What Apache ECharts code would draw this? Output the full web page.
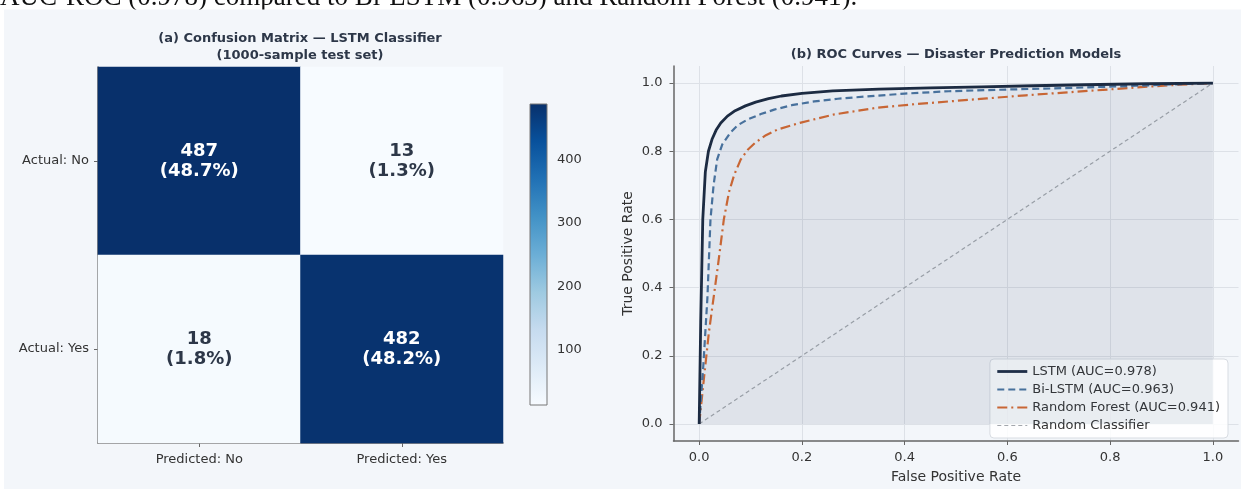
<!DOCTYPE html>
<html><head><meta charset="utf-8">
<script src="https://cdn.jsdelivr.net/npm/echarts@6/dist/echarts.min.js"></script>
<style>html,body{margin:0;padding:0;background:#fff}#c{width:1241px;height:489px}</style>
</head><body><div id="c"></div>
<script>
// ---------- data ----------
const captionText = 'AUC-ROC (0.978) compared to Bi-LSTM (0.963) and Random Forest (0.941).';
const cmTitle = '(a) Confusion Matrix \u2014 LSTM Classifier\n(1000-sample test set)';
const rocTitle = '(b) ROC Curves \u2014 Disaster Prediction Models';
const predictedLabels = ['Predicted: No', 'Predicted: Yes'];
const actualLabels = ['Actual: No', 'Actual: Yes'];
const cmCounts = [[487, 13], [18, 482]]; // rows = actual, cols = predicted
const cmTotal = 1000;
const colorbarMin = 13, colorbarMax = 487;
const colorbarTicks = [100, 200, 300, 400];
const rocTicks = [0, 0.2, 0.4, 0.6, 0.8, 1.0];

const lstmName = 'LSTM (AUC=0.978)';
const lstmFpr = [0, 0.003, 0.007, 0.012, 0.018, 0.025, 0.033, 0.042, 0.055, 0.07, 0.09, 0.11, 0.135, 0.16, 0.2, 0.26, 0.35, 0.45, 0.55, 0.65, 0.75, 0.87, 1.0];
const lstmTpr = [0, 0.3, 0.6, 0.74, 0.8, 0.835, 0.862, 0.883, 0.903, 0.919, 0.933, 0.944, 0.954, 0.962, 0.97, 0.977, 0.982, 0.986, 0.989, 0.992, 0.995, 0.998, 1.0];

const bilstmName = 'Bi-LSTM (AUC=0.963)';
const bilstmFpr = [0, 0.008, 0.016, 0.022, 0.028, 0.035, 0.045, 0.061, 0.075, 0.094, 0.12, 0.146, 0.18, 0.224, 0.27, 0.328, 0.4, 0.486, 0.6, 0.71, 0.85, 1.0];
const bilstmTpr = [0, 0.17, 0.37, 0.6, 0.7, 0.776, 0.82, 0.855, 0.876, 0.893, 0.909, 0.922, 0.935, 0.946, 0.954, 0.961, 0.969, 0.976, 0.981, 0.985, 0.992, 1.0];

const rfName = 'Random Forest (AUC=0.941)';
const rfFpr = [0, 0.009, 0.019, 0.028, 0.037, 0.048, 0.058, 0.068, 0.081, 0.095, 0.11, 0.13, 0.153, 0.198, 0.263, 0.348, 0.42, 0.486, 0.56, 0.636, 0.71, 0.786, 0.86, 0.936, 1.0];
const rfTpr = [0, 0.13, 0.27, 0.37, 0.47, 0.6, 0.68, 0.73, 0.776, 0.805, 0.826, 0.847, 0.864, 0.884, 0.908, 0.928, 0.938, 0.946, 0.955, 0.964, 0.972, 0.98, 0.988, 0.995, 1.0];

const randomName = 'Random Classifier';
const randomFpr = [0, 1];
const randomTpr = [0, 1];

// ---------- styles ----------
const BLUES = ['#f7fbff','#deebf7','#c6dbef','#9ecae1','#6baed6','#4292c6','#2171b5','#08519c','#08306b'];
const FIG_BG = '#f3f6fa';
const TXT = '#333';
const FONT = 'DejaVu Sans';

const zip = (a, b) => a.map((v, i) => [v, b[i]]);

const heatData = [];
cmCounts.forEach((row, r) => row.forEach((v, c) => {
  heatData.push({
    value: [c, r, v],
    label: { color: v > (colorbarMax + colorbarMin) / 2 ? '#ffffff' : '#2d3748' }
  });
}));

const chart = echarts.init(document.getElementById('c'), null, { renderer: 'canvas' });

const option = {
  backgroundColor: '#ffffff',
  animation: false,
  textStyle: { fontFamily: FONT },
  graphic: [
    { type: 'text', x: 0, y: -2, z: -20, silent: true,
      style: { text: captionText, font: '27px "Liberation Serif"', fill: '#111', verticalAlign: 'middle' } },
    { type: 'rect', z: -10, silent: true, shape: { x: 4, y: 9.5, width: 1237, height: 480 }, style: { fill: FIG_BG } },
    { type: 'text', x: 300, y: 30, silent: true,
      style: { text: cmTitle, font: 'bold 13px "DejaVu Sans"', fill: '#2d3748', align: 'center', lineHeight: 17 } },
    { type: 'text', x: 956, y: 48, silent: true,
      style: { text: rocTitle, font: 'bold 13px "DejaVu Sans"', fill: '#2d3748', align: 'center' } }
  ],
  visualMap: {
    show: false, type: 'continuous', seriesIndex: 0,
    min: colorbarMin, max: colorbarMax, inRange: { color: BLUES }
  },
  legend: {
    orient: 'vertical', right: 13, bottom: 51,
    itemWidth: 30, itemHeight: 14, itemGap: 5,
    padding: [6, 8, 6, 6],
    backgroundColor: 'rgba(255,255,255,0.85)', borderColor: '#d8dce2', borderWidth: 1, borderRadius: 4,
    itemStyle: { opacity: 0 },
    lineStyle: { width: 'inherit' },
    textStyle: { fontSize: 13, color: TXT, fontFamily: FONT },
    data: [lstmName, bilstmName, rfName, randomName]
  },
  grid: [
    { left: 98, top: 67, width: 405, height: 376 },
    { left: 530, top: 104, width: 17, height: 301 },
    { left: 673.5, top: 66, width: 565, height: 378 }
  ],
  xAxis: [
    { gridIndex: 0, type: 'category', data: predictedLabels,
      axisLine: { show: true, lineStyle: { color: '#666', width: 1.5 } },
      axisTick: { show: true, alignWithLabel: true, length: 4, lineStyle: { color: '#666' } },
      axisLabel: { fontSize: 13, color: TXT, margin: 10 },
      splitLine: { show: false } },
    { gridIndex: 1, type: 'value', min: 0, max: 1, show: false },
    { gridIndex: 2, type: 'value', min: -0.05, max: 1.05,
      name: 'False Positive Rate', nameLocation: 'middle', nameGap: 29,
      nameTextStyle: { fontSize: 14, color: TXT },
      axisLine: { show: true, onZero: false, lineStyle: { color: '#666', width: 1.5 } },
      axisTick: { show: true, length: 4, customValues: rocTicks, lineStyle: { color: '#666' } },
      axisLabel: { fontSize: 13, color: TXT, margin: 10, customValues: rocTicks, formatter: v => v.toFixed(1) },
      splitLine: { show: true, lineStyle: { color: '#dde1e7', width: 1 } } }
  ],
  yAxis: [
    { gridIndex: 0, type: 'category', data: actualLabels, inverse: true,
      axisLine: { show: true, lineStyle: { color: '#666', width: 1.5 } },
      axisTick: { show: true, alignWithLabel: true, length: 4, lineStyle: { color: '#666' } },
      axisLabel: { fontSize: 13, color: TXT, margin: 9 },
      splitLine: { show: false } },
    { gridIndex: 1, type: 'value', min: colorbarMin, max: colorbarMax, position: 'right',
      axisLine: { show: false },
      axisTick: { show: true, length: 4, customValues: colorbarTicks, lineStyle: { color: '#666' } },
      axisLabel: { fontSize: 13, color: TXT, margin: 10, customValues: colorbarTicks },
      splitLine: { show: false } },
    { gridIndex: 2, type: 'value', min: -0.05, max: 1.05,
      name: 'True Positive Rate', nameLocation: 'middle', nameGap: 38,
      nameTextStyle: { fontSize: 14, color: TXT },
      axisLine: { show: true, onZero: false, lineStyle: { color: '#666', width: 1.5 } },
      axisTick: { show: true, length: 4, customValues: rocTicks, lineStyle: { color: '#666' } },
      axisLabel: { fontSize: 13, color: TXT, margin: 11, customValues: rocTicks, formatter: v => v.toFixed(1) },
      splitLine: { show: true, lineStyle: { color: '#dde1e7', width: 1 } } }
  ],
  series: [
    { type: 'heatmap', xAxisIndex: 0, yAxisIndex: 0, data: heatData,
      label: { show: true, fontSize: 18, fontWeight: 'bold', lineHeight: 20,
        formatter: p => p.value[2] + '\n(' + (p.value[2] / cmTotal * 100).toFixed(1) + '%)' },
      itemStyle: { borderWidth: 0 }, emphasis: { disabled: true } },
    { type: 'custom', xAxisIndex: 1, yAxisIndex: 1, silent: true,
      data: [[0, colorbarMin, colorbarMax]],
      renderItem: (params, api) => {
        const top = api.coord([0, api.value(2)]);
        const bot = api.coord([0, api.value(1)]);
        const cs = params.coordSys;
        return { type: 'rect',
          shape: { x: cs.x, y: top[1], width: cs.width, height: bot[1] - top[1] },
          style: { fill: new echarts.graphic.LinearGradient(0, 1, 0, 0,
              BLUES.map((c, i) => ({ offset: i / (BLUES.length - 1), color: c }))),
            stroke: '#777', lineWidth: 1 } };
      } },
    { name: lstmName, type: 'line', xAxisIndex: 2, yAxisIndex: 2, data: zip(lstmFpr, lstmTpr),
      symbol: 'none', z: 5, lineStyle: { color: '#1c2b42', width: 2.8 }, itemStyle: { color: '#1c2b42' },
      areaStyle: { color: '#1f3a66', opacity: 0.05 } },
    { name: bilstmName, type: 'line', xAxisIndex: 2, yAxisIndex: 2, data: zip(bilstmFpr, bilstmTpr),
      symbol: 'none', z: 4, lineStyle: { color: '#4a74a0', width: 2.2, type: [7, 4] }, itemStyle: { color: '#4a74a0' },
      areaStyle: { color: '#4a74a0', opacity: 0.05 } },
    { name: rfName, type: 'line', xAxisIndex: 2, yAxisIndex: 2, data: zip(rfFpr, rfTpr),
      symbol: 'none', z: 3, lineStyle: { color: '#d9692e', width: 2.2, type: [10, 4, 2, 4] }, itemStyle: { color: '#d9692e' },
      areaStyle: { color: '#d9692e', opacity: 0.015 } },
    { name: randomName, type: 'line', xAxisIndex: 2, yAxisIndex: 2, data: zip(randomFpr, randomTpr),
      symbol: 'none', z: 2, lineStyle: { color: '#a3a7ad', width: 1.2, type: [4, 3] }, itemStyle: { color: '#a3a7ad' } }
  ]
};
chart.setOption(option);
</script>
</body></html>
